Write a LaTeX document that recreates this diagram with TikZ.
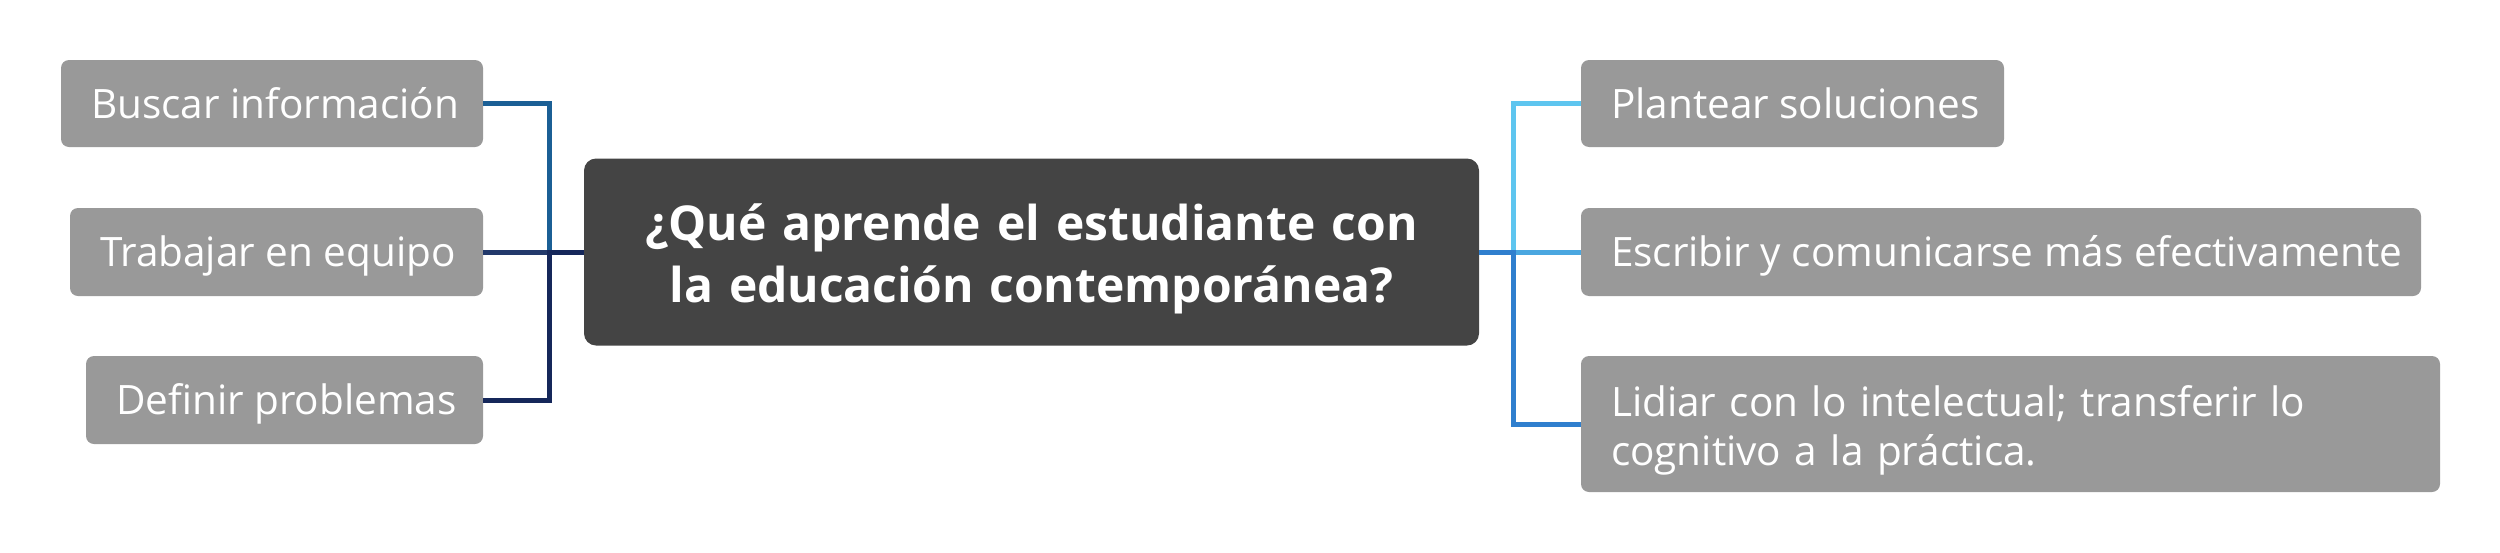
\documentclass[tikz,border=0pt]{standalone}
\usepackage{fontspec}
\setmainfont{Open Sans}
\definecolor{leafgray}{HTML}{999999}
\definecolor{hubgray}{HTML}{444444}
\definecolor{lcA}{HTML}{1B5F95}
\definecolor{lcB}{HTML}{22396B}
\definecolor{lcC}{HTML}{15275A}
\definecolor{rcA}{HTML}{5EC5EF}
\definecolor{rcB}{HTML}{4AA7E0}
\definecolor{rcC}{HTML}{2F7FCE}
\newcommand\leaftext[2]{\makebox[#1][l]{\hspace*{5pt}\rule[-10pt]{0pt}{49pt}#2}}
\begin{document}
\begin{tikzpicture}[x=1pt,y=-1pt,
  leaf/.style={fill=leafgray, rounded corners=8pt, inner xsep=25pt, inner ysep=0pt,
    text=white, anchor=center, font=\fontsize{40.5}{49}\selectfont},
  hub/.style={fill=hubgray, rounded corners=12pt, inner xsep=20pt, inner ysep=0pt,
    text=white, anchor=center, align=center, text width=855pt,
    minimum height=187pt, font=\fontsize{48}{62}\selectfont\bfseries},
  conn/.style={line width=5pt, line join=miter}]
\useasboundingbox (0,0) rectangle (2500,552);

\node[hub] (c) at (1031.5,252) {\rule{0pt}{51pt}¿Qué aprende el estudiante con\\la educación contemporánea?\rule[-12pt]{0pt}{12pt}};

\node[leaf, minimum height=87pt] (b1) at (272,103.5) {\leaftext{372pt}{Buscar información}};
\node[leaf, minimum height=88pt] (b2) at (276.5,252) {\leaftext{363pt}{Trabajar en equipo}};
\node[leaf, minimum height=88pt] (b3) at (284.5,400) {\leaftext{347pt}{Definir problemas}};

\node[leaf, minimum height=87pt] (r1) at (1792.5,103.5) {\leaftext{373pt}{Plantear soluciones}};
\node[leaf, minimum height=88pt] (r2) at (2001,252) {\leaftext{790pt}{Escribir y comunicarse más efectivamente}};
\node[leaf, minimum height=136pt, text width=809pt, align=left] (r3) at (2010.5,424)
  {\hspace*{5pt}\rule{0pt}{43pt}Lidiar con lo intelectual; transferir lo\\\hspace*{5pt}cognitivo a la práctica.\rule[-10pt]{0pt}{10pt}};

\draw[conn, lcA] (c.west) -- ++(-34,0) |- (b1.east);
\draw[conn, lcB] (c.west) -- (b2.east);
\draw[conn, lcC] (c.west) -- ++(-34,0) |- (b3.east);

\draw[conn, rcA] (c.east) -- ++(34,0) |- (r1.west);
\draw[conn, rcB] (c.east) -- (r2.west);
\draw[conn, rcC] (c.east) -- ++(34,0) |- (r3.west);
\end{tikzpicture}
\end{document}
